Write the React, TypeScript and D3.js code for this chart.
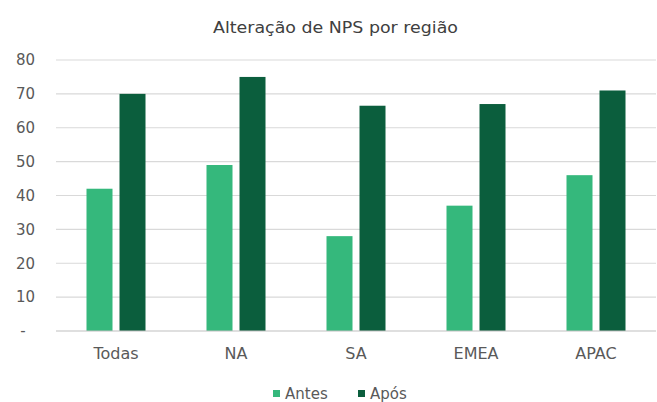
import React from 'react';
import * as d3 from 'd3';

const regions = ['Todas', 'NA', 'SA', 'EMEA', 'APAC'];
const antes = [42, 49, 28, 37, 46];
const apos = [70, 75, 66.5, 67, 71];
const seriesNames = ['Antes', 'Após'];
const yTicks = [0, 10, 20, 30, 40, 50, 60, 70, 80];

const App = () => {
  const Width = 657;
  const Height = 402;
  const margin = { top: 60, right: 1, bottom: 71, left: 56 };
  const chartWidth = Width - margin.left - margin.right;
  const chartHeight = Height - margin.top - margin.bottom;
  const colors = ['#35b87c', '#0b5e3d'];
  const font = 'DejaVu Sans, Verdana, sans-serif';

  const xScale = d3.scaleBand().domain(regions).range([0, chartWidth]).paddingInner(0).paddingOuter(0);
  const yScale = d3.scaleLinear().domain([0, 80]).range([chartHeight, 0]);
  const barWidth = 26;
  const gap = 7;

  const series = [antes, apos];

  return (
    <svg width={Width} height={Height} style={{ position: 'absolute', left: 0, top: 0, background: '#fff' }}>
      <text
        x={213}
        y={33}
        textLength={245}
        lengthAdjust="spacingAndGlyphs"
        fill="#404040"
        style={{ fontSize: '15px', fontFamily: font }}
      >
        Alteração de NPS por região
      </text>
      <g transform={`translate(${margin.left}, ${margin.top})`}>
        {yTicks.map((t) => (
          <g key={t}>
            {t > 0 && (
              <line x1={0} x2={chartWidth} y1={yScale(t)} y2={yScale(t)} stroke="#d9d9d9" strokeWidth={1.2} />
            )}
            <text
              x={t === 0 ? -33 : -21}
              y={yScale(t)}
              dy="0.35em"
              textAnchor={t === 0 ? 'middle' : 'end'}
              fill="#595959"
              style={{ fontSize: '15px', fontFamily: font }}
            >
              {t === 0 ? '-' : t}
            </text>
          </g>
        ))}
        {regions.map((r, i) => {
          const cx = (xScale(r) as number) + xScale.bandwidth() / 2;
          return (
            <g key={r}>
              {series.map((s, j) => (
                <rect
                  key={j}
                  x={j === 0 ? cx - gap / 2 - barWidth : cx + gap / 2}
                  y={yScale(s[i])}
                  width={barWidth}
                  height={chartHeight - yScale(s[i])}
                  fill={colors[j]}
                />
              ))}
              <text
                x={cx}
                y={chartHeight + 28}
                textAnchor="middle"
                fill="#595959"
                style={{ fontSize: '16px', fontFamily: font }}
              >
                {r}
              </text>
            </g>
          );
        })}
        <line x1={0} x2={chartWidth} y1={chartHeight} y2={chartHeight} stroke="#bfbfbf" strokeWidth={1.2} />
      </g>
      <g transform="translate(273, 394)">
        {seriesNames.map((n, j) => (
          <g key={n} transform={`translate(${j * 85}, 0)`}>
            <rect x={0} y={-4} width={7} height={7} fill={colors[j]} />
            <text x={12} y={0} dy="0.35em" fill="#595959" style={{ fontSize: '15px', fontFamily: font }}>
              {n}
            </text>
          </g>
        ))}
      </g>
    </svg>
  );
};

export default App;
